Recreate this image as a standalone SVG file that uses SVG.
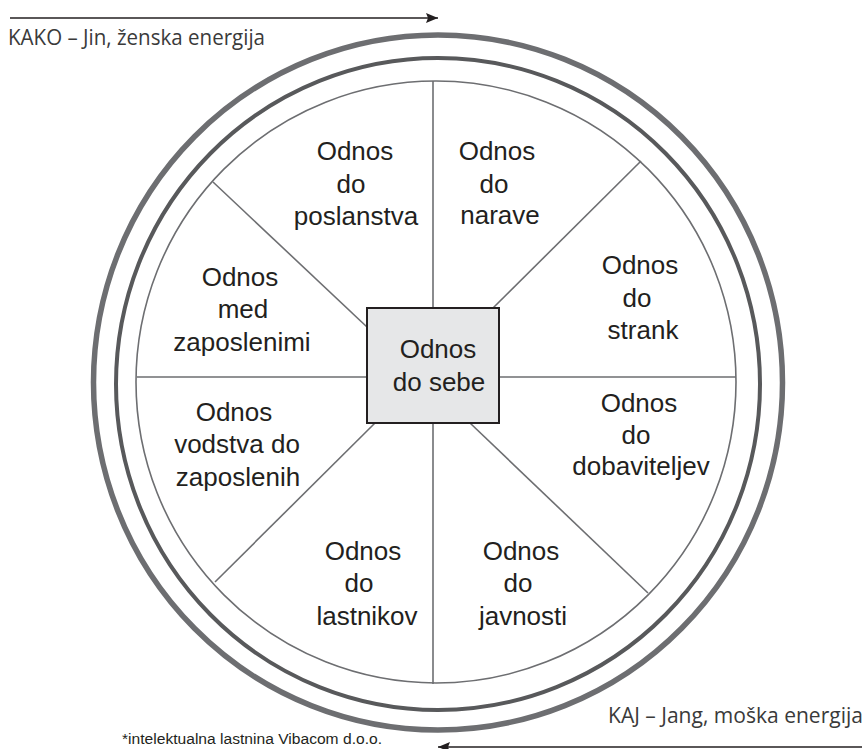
<svg xmlns="http://www.w3.org/2000/svg" width="866" height="749" viewBox="0 0 866 749">
<style>
.lbl{font-family:"Liberation Sans",Arial,sans-serif;font-size:26px;fill:#231f20;text-anchor:middle}
.cap{font-family:"Open Sans","Noto Sans",sans-serif;fill:#3a3a3a}
.spoke{stroke:#6d6e71;stroke-width:1.6;fill:none}
.ring{fill:none}
</style>
<defs>
<marker id="ah" markerWidth="12" markerHeight="10" refX="12" refY="5" orient="auto" markerUnits="userSpaceOnUse">
<path d="M0,0 L12,5 L0,10 L2,5 Z" fill="#231f20"/>
</marker>
</defs>
<rect width="866" height="749" fill="#ffffff"/>

<g id="rings">
<ellipse class="ring" cx="438" cy="382.5" rx="344.5" ry="347.5" stroke="#6d6e71" stroke-width="5.5"/>
<ellipse class="ring" cx="438" cy="384" rx="322" ry="326" stroke="#58595b" stroke-width="4"/>
<ellipse class="ring" cx="436" cy="382" rx="300" ry="301" stroke="#6d6e71" stroke-width="1.6"/>
</g>

<g id="connectors">
<line class="spoke" x1="433" y1="81" x2="433" y2="308"/>
<line class="spoke" x1="433" y1="423" x2="433" y2="684"/>
<line class="spoke" x1="137" y1="377" x2="367" y2="377"/>
<line class="spoke" x1="499" y1="377" x2="736" y2="377"/>
<line class="spoke" x1="641" y1="161" x2="493" y2="308"/>
<line class="spoke" x1="213" y1="182" x2="367" y2="327"/>
<line class="spoke" x1="375" y1="423" x2="215" y2="582"/>
<line class="spoke" x1="470" y1="423" x2="648" y2="593"/>
</g>

<g id="center">
<rect x="367" y="308" width="132" height="115" fill="#e6e7e8" stroke="#231f20" stroke-width="2"/>
<text class="lbl" x="438" y="358">Odnos</text>
<text class="lbl" x="439" y="391">do sebe</text>
</g>

<g id="poslanstvo">
<text class="lbl" x="355" y="160">Odnos</text>
<text class="lbl" x="351" y="193">do</text>
<text class="lbl" x="356" y="225">poslanstva</text>
</g>
<g id="narava">
<text class="lbl" x="497" y="160">Odnos</text>
<text class="lbl" x="494" y="193">do</text>
<text class="lbl" x="500" y="224">narave</text>
</g>
<g id="stranke">
<text class="lbl" x="640" y="274">Odnos</text>
<text class="lbl" x="637" y="307">do</text>
<text class="lbl" x="643" y="339">strank</text>
</g>
<g id="dobavitelji">
<text class="lbl" x="639" y="412">Odnos</text>
<text class="lbl" x="636" y="444">do</text>
<text class="lbl" x="641" y="475">dobaviteljev</text>
</g>
<g id="javnost">
<text class="lbl" x="521" y="560">Odnos</text>
<text class="lbl" x="518" y="592">do</text>
<text class="lbl" x="523" y="625">javnosti</text>
</g>
<g id="lastniki">
<text class="lbl" x="363" y="560">Odnos</text>
<text class="lbl" x="359" y="592">do</text>
<text class="lbl" x="367" y="625">lastnikov</text>
</g>
<g id="vodstvo">
<text class="lbl" x="234" y="421">Odnos</text>
<text class="lbl" x="237" y="453">vodstva do</text>
<text class="lbl" x="238" y="486">zaposlenih</text>
</g>
<g id="zaposleni">
<text class="lbl" x="240" y="286">Odnos</text>
<text class="lbl" x="243" y="318">med</text>
<text class="lbl" x="242" y="351">zaposlenimi</text>
</g>

<g id="kako">
<line x1="10" y1="18" x2="438" y2="18" stroke="#231f20" stroke-width="1.4" marker-end="url(#ah)"/>
<text class="cap" x="8" y="45" font-size="21" textLength="257" lengthAdjust="spacingAndGlyphs">KAKO – Jin, ženska energija</text>
</g>
<g id="kaj">
<line x1="862" y1="747" x2="438" y2="747" stroke="#231f20" stroke-width="1.4" marker-end="url(#ah)"/>
<text class="cap" x="608" y="723" font-size="21" textLength="255" lengthAdjust="spacingAndGlyphs">KAJ – Jang, moška energija</text>
</g>
<text x="122" y="744" font-family="'Liberation Sans',Arial,sans-serif" font-size="14" fill="#231f20" textLength="260" lengthAdjust="spacingAndGlyphs">*intelektualna lastnina Vibacom d.o.o.</text>
</svg>
